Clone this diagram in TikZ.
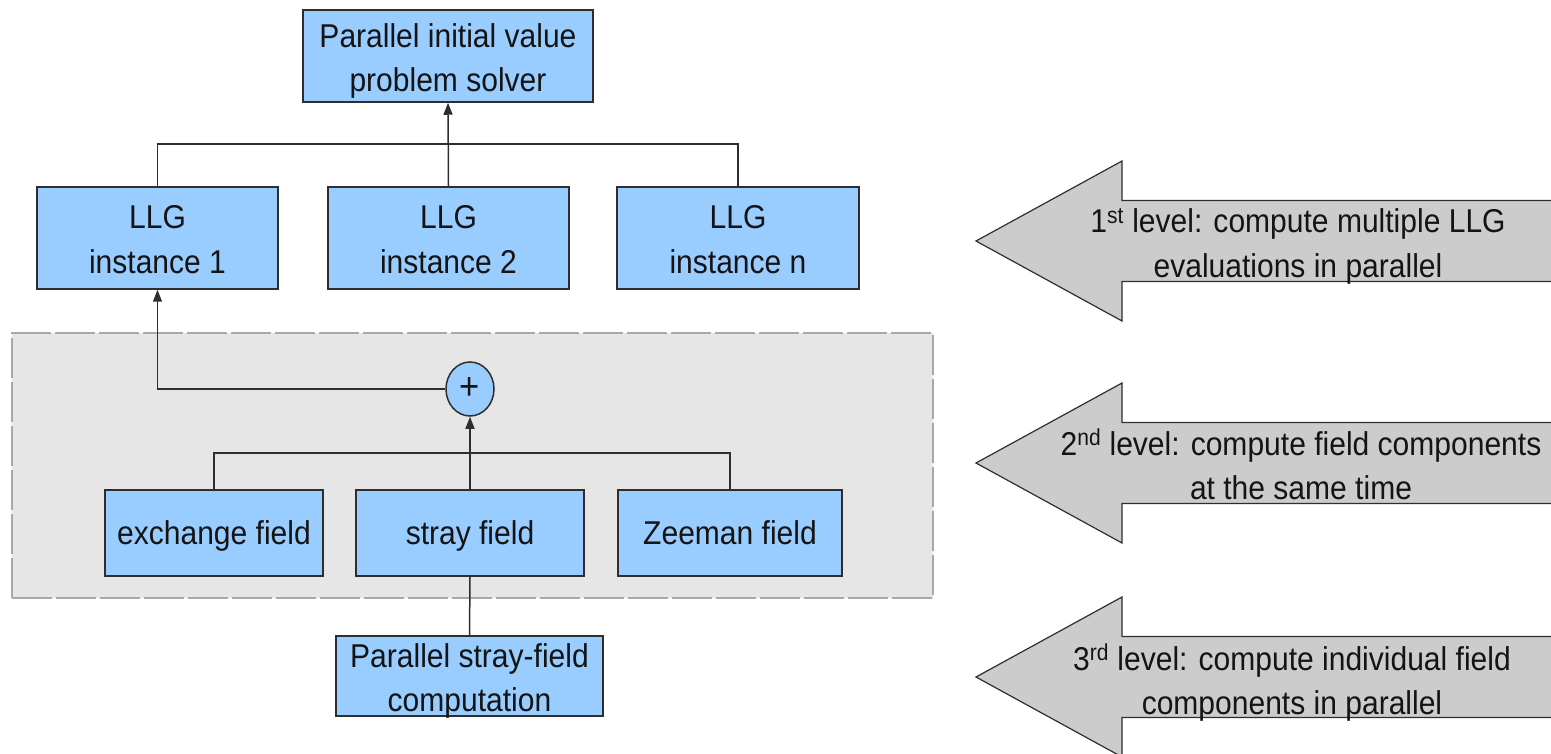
\documentclass[tikz,border=0pt]{standalone}
\usepackage{fontspec}
\setmainfont{Liberation Sans}[FakeStretch=0.91]
\usetikzlibrary{arrows.meta,shapes.geometric}
\definecolor{boxblue}{HTML}{99CCFF}
\definecolor{panelgrey}{HTML}{E6E6E6}
\definecolor{panelline}{HTML}{A8A8A8}
\definecolor{arrowgrey}{HTML}{CCCCCC}
\definecolor{inkdark}{HTML}{2E2E2E}

\begin{document}
\begin{tikzpicture}[x=1pt,y=-1pt,
  every node/.style={font=\fontsize{33}{44}\selectfont, text=black!92},
  block/.style={draw=inkdark, line width=1.5pt, fill=boxblue, align=center, inner sep=0pt},
  oneline/.style={text height=23pt, text depth=0pt},
  caption/.style={anchor=base, align=center, inner sep=0pt},
  link/.style={draw=inkdark, line width=1.5pt},
  feed/.style={link, -{Triangle[length=12pt,width=9pt]}},
  panel/.style={draw=panelline, fill=panelgrey, line width=1.2pt, dash pattern=on 40pt off 4pt, inner sep=0pt},
  levelarrow/.style={draw=inkdark, line width=1.2pt, fill=arrowgrey, line join=miter}]

\useasboundingbox (0,0) rectangle (1551,754);
\clip (0,0) rectangle (1551,754);

% shaded region holding the field components
\node[panel, minimum width=921pt, minimum height=265pt] (fields) at (472.5,465.5) {};

% top-level solver and LLG instances
\node[block, minimum width=290pt, minimum height=92pt] (solver) at (448,56) {};
\node[caption] (solvertext) at (448,92) {Parallel initial value\\problem solver};
\node[block, minimum width=241pt, minimum height=102pt] (llg1) at (157.5,238) {};
\node[caption] (llg1text) at (157.5,273) {LLG\\instance 1};
\node[block, minimum width=241pt, minimum height=102pt] (llg2) at (448.5,238) {};
\node[caption] (llg2text) at (448.5,273) {LLG\\instance 2};
\node[block, minimum width=242pt, minimum height=102pt] (llgn) at (738,238) {};
\node[caption] (llgntext) at (738,273) {LLG\\instance n};

% field components
\node[draw=inkdark, line width=1.5pt, fill=boxblue, ellipse, inner sep=0pt, minimum width=48pt, minimum height=54pt, font=\fontsize{38}{40}\selectfont] (sum) at (470,389) {+};
\node[block, oneline, minimum width=218pt, minimum height=86pt] (exch) at (214,533) {exchange field};
\node[block, oneline, minimum width=228pt, minimum height=86pt] (stray) at (470,533) {stray field};
\node[block, oneline, minimum width=224pt, minimum height=86pt] (zeeman) at (730,533) {Zeeman field};
\node[block, minimum width=267pt, minimum height=80pt] (straycomp) at (469.5,676) {};
\node[caption] (straycomptext) at (469.5,711.5) {Parallel stray-field\\computation};

% connectors
\coordinate (busA) at (448,144);
\draw[link] (llg1.north) |- (busA) -| (llgn.north);
\draw[feed] (llg2.north) -- (solver.south);
\draw[feed] (sum.west) -| (llg1.south);
\coordinate (busB) at (470,453);
\draw[link] (exch.north) |- (busB) -| (zeeman.north);
\draw[feed] (stray.north) -- (sum.south);
\draw[link] (stray.south) -- (straycomp.north);

% level arrows on the right
\foreach \yc in {241,463,677}{
  \draw[levelarrow] (976,\yc) -- (1122,\yc-80) -- (1122,\yc-40.5) -- (1560,\yc-40.5)
    -- (1560,\yc+40.5) -- (1122,\yc+40.5) -- (1122,\yc+80) -- cycle;
}
\node[caption] (lvl1) at (1298,277) {1\textsuperscript{st} level: compute multiple LLG\\evaluations in parallel};
\node[caption] (lvl2) at (1301,499) {2\textsuperscript{nd} level: compute field components\\at the same time};
\node[caption] (lvl3) at (1292,714) {3\textsuperscript{rd} level: compute individual field\\components in parallel};
\end{tikzpicture}
\end{document}
